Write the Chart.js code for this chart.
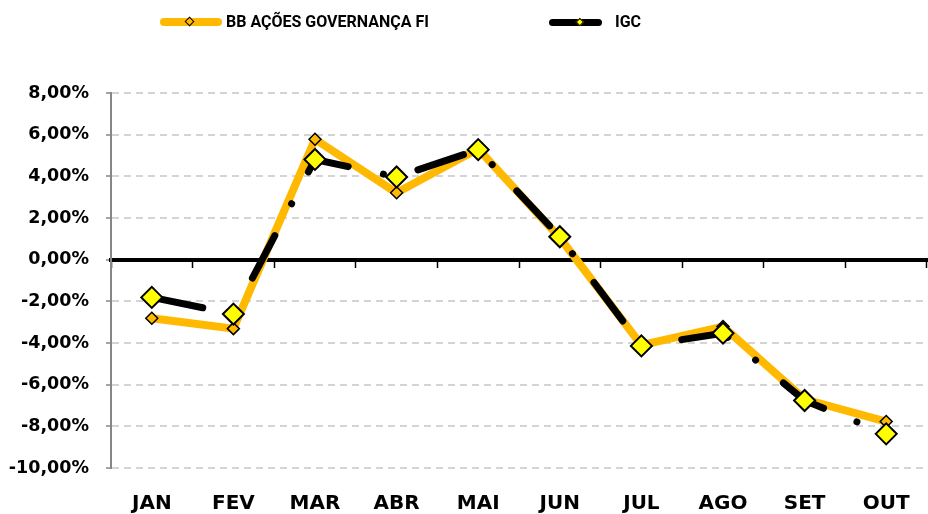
<!DOCTYPE html>
<html><head><meta charset="utf-8">
<script src="https://cdn.jsdelivr.net/npm/chart.js@4.4.1/dist/chart.umd.min.js"></script>
<style>
html,body{margin:0;padding:0;background:#fff;}
#wrap{position:relative;width:928px;height:514px;overflow:hidden;}
#chart{position:absolute;left:0;top:0;}
.lg-line{position:absolute;border-radius:4px;}
.lg-mark{position:absolute;transform:rotate(45deg);box-sizing:border-box;}
.lg-text{position:absolute;font-family:Roboto, sans-serif;font-weight:bold;font-size:16px;color:#000;white-space:nowrap;line-height:20px;}
</style></head>
<body>
<div id="wrap"><canvas id="chart" width="928" height="514"></canvas><div id="legend"></div></div>
<script>
// ---- data ----
const categories = ['JAN', 'FEV', 'MAR', 'ABR', 'MAI', 'JUN', 'JUL', 'AGO', 'SET', 'OUT'];
const seriesNames = ['BB AÇÕES GOVERNANÇA FI', 'IGC'];
const bbValues  = [-2.81, -3.31, 5.78, 3.21, 5.32, 1.05, -4.10, -3.21, -6.70, -7.77];
const igcValues = [-1.81, -2.61, 4.81, 3.97, 5.28, 1.10, -4.14, -3.53, -6.76, -8.36];
const yTickValues = [-10, -8, -6, -4, -2, 0, 2, 4, 6, 8];

// ---- styles ----
const ORANGE = '#FFB900';
const YELLOW = '#FFFF00';
const GRID = '#D4D4D4';
const AXIS = '#868686';
const tickFont = {family: "'DejaVu Sans', sans-serif", weight: 'bold', size: 17.5};
const catFont = {family: "'DejaVu Sans', sans-serif", weight: 'bold', size: 20};

function fmtPct(v) { return v.toFixed(2).replace('.', ',') + '%'; }
function noSidePad(s) { s.paddingLeft = 0; s.paddingRight = 0; }

const chart = new Chart(document.getElementById('chart'), {
  type: 'line',
  data: {
    labels: categories,
    datasets: [
      {
        label: seriesNames[0],
        data: bbValues,
        order: 1,
        borderColor: ORANGE,
        borderWidth: 8,
        borderCapStyle: 'round',
        borderJoinStyle: 'round',
        tension: 0,
        pointStyle: 'rectRot',
        pointRadius: 6,
        pointBackgroundColor: ORANGE,
        pointBorderColor: '#000',
        pointBorderWidth: 1.5,
        fill: false
      },
      {
        label: seriesNames[1],
        data: igcValues,
        order: 0,
        borderColor: '#000',
        borderWidth: 7,
        borderCapStyle: 'round',
        borderJoinStyle: 'round',
        borderDash: [48, 36, 0.01, 36],
        borderDashOffset: -4,
        tension: 0,
        pointStyle: 'rectRot',
        pointRadius: 10.5,
        pointBackgroundColor: YELLOW,
        pointBorderColor: '#000',
        pointBorderWidth: 2,
        fill: false
      }
    ]
  },
  options: {
    responsive: false,
    animation: false,
    devicePixelRatio: 1,
    layout: {autoPadding: false, padding: {top: 93, right: 1, bottom: 0, left: 0}},
    plugins: {legend: {display: false}, tooltip: {enabled: false}},
    scales: {
      x: {
        type: 'category',
        position: 'bottom',
        offset: true,
        grid: {display: false},
        border: {display: false},
        ticks: {font: catFont, color: '#000', padding: 16, maxRotation: 0, autoSkip: false},
        afterFit: s => { s.height = 46; noSidePad(s); }
      },
      x2: {
        type: 'category',
        labels: categories,
        position: {y: 0},
        offset: true,
        grid: {drawOnChartArea: false, drawTicks: true, tickLength: 6, tickColor: '#000', tickWidth: 1.5, offset: true},
        border: {display: true, color: '#000', width: 4},
        ticks: {display: false},
        afterFit: s => { noSidePad(s); }
      },
      y: {
        type: 'linear',
        position: 'left',
        min: -10,
        max: 8,
        afterBuildTicks: s => { s.ticks = yTickValues.map(v => ({value: v})); },
        ticks: {font: tickFont, color: '#000', padding: 17, callback: v => fmtPct(v)},
        grid: {
          color: c => (c.tick && c.tick.value === 0) ? 'rgba(0,0,0,0)' : GRID,
          lineWidth: 2,
          drawTicks: true,
          tickLength: 5,
          tickColor: AXIS,
          tickWidth: 1.5
        },
        border: {display: true, color: AXIS, width: 2, dash: c => (c.tick ? [7, 5] : [])},
        afterFit: s => { s.width = 111; }
      }
    }
  }
});

// ---- HTML legend built from the datasets ----
(function buildLegend() {
  const box = document.getElementById('legend');
  const slots = [
    {lineLeft: 160, lineW: 62, lineH: 8, markX: 190, markD: 10, markB: 1.5, textLeft: 226},
    {lineLeft: 549, lineW: 53, lineH: 7, markX: 580, markD: 8, markB: 1, textLeft: 615}
  ];
  const cy = 22;
  chart.data.datasets.forEach((ds, i) => {
    const s = slots[i];
    const line = document.createElement('div');
    line.className = 'lg-line';
    line.style.left = s.lineLeft + 'px';
    line.style.top = (cy - s.lineH / 2) + 'px';
    line.style.width = s.lineW + 'px';
    line.style.height = s.lineH + 'px';
    line.style.background = ds.borderColor;
    box.appendChild(line);
    const side = s.markD / Math.SQRT2;
    const mk = document.createElement('div');
    mk.className = 'lg-mark';
    mk.style.width = side + 'px';
    mk.style.height = side + 'px';
    mk.style.left = (s.markX - side / 2) + 'px';
    mk.style.top = (cy - side / 2) + 'px';
    mk.style.background = ds.pointBackgroundColor;
    mk.style.border = s.markB + 'px solid ' + ds.pointBorderColor;
    box.appendChild(mk);
    const t = document.createElement('div');
    t.className = 'lg-text';
    t.style.left = s.textLeft + 'px';
    t.style.top = (cy - 10) + 'px';
    t.textContent = ds.label;
    box.appendChild(t);
  });
})();
</script>
</body></html>
